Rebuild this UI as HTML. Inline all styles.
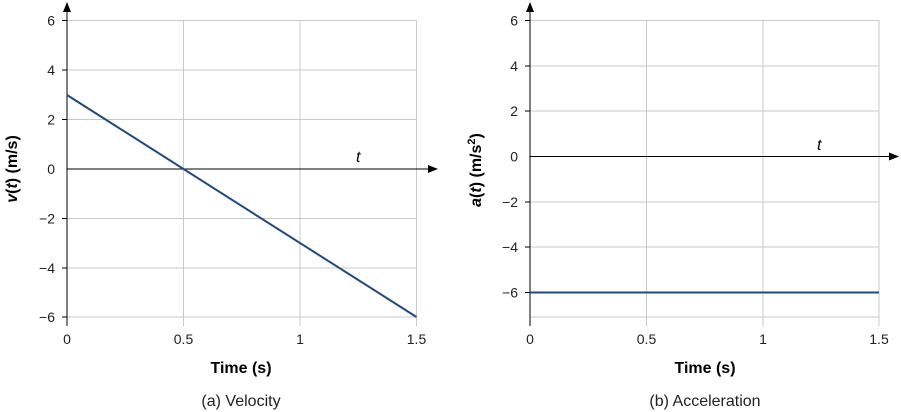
<!DOCTYPE html>
<html><head><meta charset="utf-8"><style>body{margin:0;background:#fff}svg{display:block}</style></head><body>
<svg width="901" height="412" viewBox="0 0 901 412" font-family="Liberation Sans, sans-serif">
<defs><marker id="ar" markerWidth="10" markerHeight="8" refX="9" refY="4" orient="auto" markerUnits="userSpaceOnUse"><path d="M0,0 L10,4 L0,8 z" fill="#000"/></marker></defs>
<!-- Left chart -->
<g stroke="#c8c8c8" stroke-width="1">
<line x1="67" y1="20.5" x2="416.5" y2="20.5"/><line x1="67" y1="70" x2="416.5" y2="70"/><line x1="67" y1="119.5" x2="416.5" y2="119.5"/><line x1="67" y1="218.5" x2="416.5" y2="218.5"/><line x1="67" y1="268" x2="416.5" y2="268"/><line x1="67" y1="317" x2="416.5" y2="317"/>
<line x1="183.5" y1="20.5" x2="183.5" y2="326"/><line x1="300" y1="20.5" x2="300" y2="326"/><line x1="416.5" y1="20.5" x2="416.5" y2="326"/>
</g>
<g stroke="#000" stroke-width="1">
<line x1="67" y1="326" x2="67" y2="3" marker-end="url(#ar)"/>
<line x1="67" y1="169" x2="437" y2="169" marker-end="url(#ar)"/>
<line x1="62" y1="20.5" x2="67" y2="20.5"/><line x1="62" y1="70" x2="67" y2="70"/><line x1="62" y1="119.5" x2="67" y2="119.5"/><line x1="62" y1="218.5" x2="67" y2="218.5"/><line x1="62" y1="268" x2="67" y2="268"/><line x1="62" y1="317" x2="67" y2="317"/>
</g>
<line x1="67" y1="95" x2="416.5" y2="317" stroke="#1f4a7a" stroke-width="2"/>
<g font-size="14" fill="#222" text-anchor="end">
<text x="55" y="25.5">6</text><text x="55" y="75">4</text><text x="55" y="124.5">2</text><text x="55" y="174">0</text><text x="55" y="223.5">−2</text><text x="55" y="273">−4</text><text x="55" y="322">−6</text>
</g>
<g font-size="14" fill="#222" text-anchor="middle">
<text x="67" y="344">0</text><text x="183.5" y="344">0.5</text><text x="300" y="344">1</text><text x="416.5" y="344">1.5</text>
</g>
<text x="356" y="162" font-size="16" font-style="italic">t</text>
<text x="241" y="373" font-size="16" font-weight="bold" text-anchor="middle">Time (s)</text>
<text x="241" y="406" font-size="16" text-anchor="middle" fill="#222">(a) Velocity</text>
<text transform="translate(17,169) rotate(-90)" font-size="16" font-weight="bold" text-anchor="middle"><tspan font-style="italic">v</tspan>(<tspan font-style="italic">t</tspan>) (m/s)</text>
<!-- Right chart -->
<g stroke="#c8c8c8" stroke-width="1">
<line x1="530" y1="20.5" x2="879" y2="20.5"/><line x1="530" y1="66" x2="879" y2="66"/><line x1="530" y1="111" x2="879" y2="111"/><line x1="530" y1="202" x2="879" y2="202"/><line x1="530" y1="247" x2="879" y2="247"/><line x1="530" y1="317" x2="879" y2="317"/>
<line x1="646.5" y1="20.5" x2="646.5" y2="326"/><line x1="763" y1="20.5" x2="763" y2="326"/><line x1="879" y1="20.5" x2="879" y2="326"/>
</g>
<g stroke="#000" stroke-width="1">
<line x1="530" y1="326" x2="530" y2="3" marker-end="url(#ar)"/>
<line x1="530" y1="156.5" x2="898" y2="156.5" marker-end="url(#ar)"/>
<line x1="525" y1="20.5" x2="530" y2="20.5"/><line x1="525" y1="66" x2="530" y2="66"/><line x1="525" y1="111" x2="530" y2="111"/><line x1="525" y1="202" x2="530" y2="202"/><line x1="525" y1="247" x2="530" y2="247"/><line x1="525" y1="292.5" x2="530" y2="292.5"/>
</g>
<line x1="530" y1="292.5" x2="879" y2="292.5" stroke="#1f4a7a" stroke-width="2"/>
<g font-size="14" fill="#222" text-anchor="end">
<text x="518" y="25.5">6</text><text x="518" y="71">4</text><text x="518" y="116">2</text><text x="518" y="161.5">0</text><text x="518" y="207">−2</text><text x="518" y="252">−4</text><text x="518" y="297.5">−6</text>
</g>
<g font-size="14" fill="#222" text-anchor="middle">
<text x="530" y="344">0</text><text x="646.5" y="344">0.5</text><text x="763" y="344">1</text><text x="879" y="344">1.5</text>
</g>
<text x="817" y="150" font-size="16" font-style="italic">t</text>
<text x="705" y="373" font-size="16" font-weight="bold" text-anchor="middle">Time (s)</text>
<text x="705" y="406" font-size="16" text-anchor="middle" fill="#222">(b) Acceleration</text>
<text transform="translate(481,170) rotate(-90)" font-size="16" font-weight="bold" text-anchor="middle"><tspan font-style="italic">a</tspan>(<tspan font-style="italic">t</tspan>) (m/s<tspan font-size="11" dy="-6">2</tspan><tspan dy="6">)</tspan></text>
</svg>
</body></html>
